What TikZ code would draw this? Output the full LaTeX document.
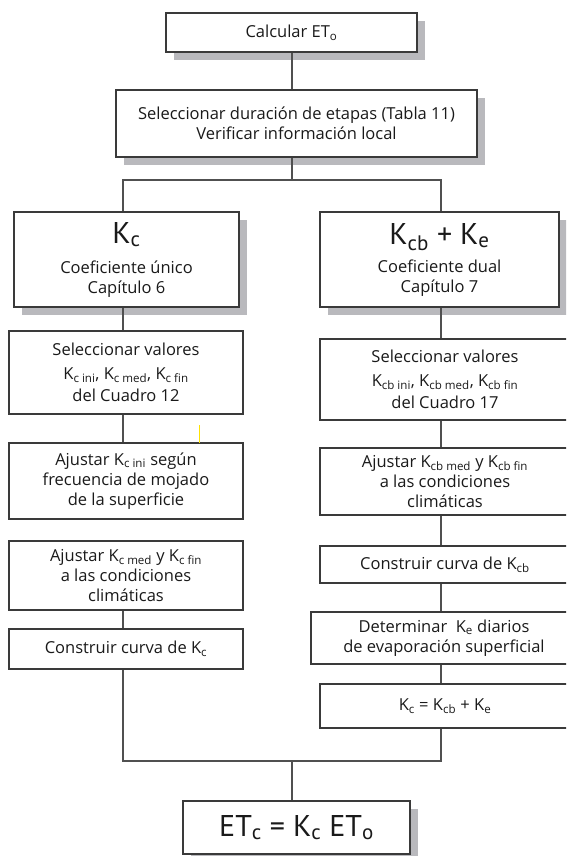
\documentclass[tikz,border=0pt]{standalone}
\usepackage{fontspec}
\setmainfont{Open Sans}
\newfontfamily\bigfamily{PT Sans}
\usetikzlibrary{shadows}
\definecolor{frameGray}{HTML}{3A3A3A}
\definecolor{lineGray}{HTML}{505050}
\definecolor{textGray}{HTML}{1A1A1A}
\definecolor{shadowGray}{HTML}{B9B9BD}
\newcommand{\sbs}[1]{\textsubscript{#1}}
\newcommand{\boxfont}{\fontsize{16.5}{20}\selectfont}
\newcommand{\bigfont}{\bigfamily\fontsize{30}{34}\selectfont}

\begin{document}
\begin{tikzpicture}[x=1pt, y=-1pt,
                box/.style={
                  draw=frameGray, line width=1.6pt, fill=white, align=center,
                  inner sep=0pt, text=textGray, font=\boxfont
                },
                shadowBox/.style={
                  box, drop shadow={shadow xshift=8pt, shadow yshift=-8pt,
                    fill=shadowGray, opacity=1}
                },
                link/.style={draw=lineGray, line width=1.4pt},
              ]
  \useasboundingbox (0,0) rectangle (566,856);
  \clip (0,0) rectangle (566,856);

  % columns of the connectors
  \coordinate (colM) at (292,0);
  \coordinate (colL) at (123,0);
  \coordinate (colR) at (441,0);
  \coordinate (split) at (292,180);
  \coordinate (merge) at (292,761);

  \node [shadowBox, minimum width=251pt, minimum height=39pt] (calc) at (291.5,32.5) {Calcular ET\sbs{o}};
  \node [shadowBox, minimum width=361pt, minimum height=67pt] (sel) at (296.5,123.5)
        {Seleccionar duración de etapas (Tabla 11)\\Verificar información local};

  % single coefficient
  \node [shadowBox, minimum width=225pt, minimum height=95pt] (kc) at (126.5,259.5)
        {{\bigfont K\sbs{c}}\\[10pt]Coeficiente único\\Capítulo 6};
  \node [box, minimum width=234pt, minimum height=83pt] (lsel) at (126,372.5)
        {Seleccionar valores\\[4pt]K\sbs{c ini}, K\sbs{c med}, K\sbs{c fin}\\[2pt]del Cuadro 12};
  \node [box, minimum width=234pt, minimum height=76pt] (lini) at (126,481)
        {Ajustar K\sbs{c ini} según\\frecuencia de mojado\\de la superficie};
  \node [box, minimum width=234pt, minimum height=69pt] (lmed) at (126,575.5)
        {Ajustar K\sbs{c med} y K\sbs{c fin}\\a las condiciones\\climáticas};
  \node [box, minimum width=234pt, minimum height=40pt] (lcurve) at (126,649)
        {Construir curva de K\sbs{c}};

  % dual coefficient
  \node [shadowBox, minimum width=239pt, minimum height=95pt] (kcb) at (439.5,259.5)
        {{\bigfont K\sbs{cb} + K\sbs{e}}\\[8pt]Coeficiente dual\\Capítulo 7};
  \node [box, minimum width=250pt, minimum height=81pt] (rsel) at (445,379.5)
        {Seleccionar valores\\[4pt]K\sbs{cb ini}, K\sbs{cb med}, K\sbs{cb fin}\\[2pt]del Cuadro 17};
  \node [box, minimum width=250pt, minimum height=67pt] (rmed) at (445,481.5)
        {Ajustar K\sbs{cb med} y K\sbs{cb fin}\\a las condiciones\\climáticas};
  \node [box, minimum width=250pt, minimum height=37pt] (rcurve) at (445,564.5)
        {Construir curva de K\sbs{cb}};
  \node [box, minimum width=266pt, minimum height=52pt] (rdet) at (444,638)
        {Determinar~ K\sbs{e} diarios\\de evaporación superficial};
  \node [box, minimum width=250pt, minimum height=44pt] (rsum) at (445,706)
        {K\sbs{c} = K\sbs{cb} + K\sbs{e}};

  \node [shadowBox, minimum width=227pt, minimum height=53pt, font=\bigfont] (etc) at (296.5,827.5)
        {ET\sbs{c} = K\sbs{c} ET\sbs{o}};

  \draw [link] (calc.south -| colM) -- (sel.north -| colM);
  \draw [link] (sel.south -| colM) -- (split);
  \draw [link] (kc.north -| colL) |- (split) -| (kcb.north -| colR);

  \draw [link] (kc.south -| colL) -- (lsel.north -| colL);
  \draw [link] (lsel.south -| colL) -- (lini.north -| colL);
  \draw [link] (lmed.south -| colL) -- (lcurve.north -| colL);

  \draw [link] (kcb.south -| colR) -- (rsel.north -| colR);
  \draw [link] (rsel.south -| colR) -- (rmed.north -| colR);
  \draw [link] (rmed.south -| colR) -- (rcurve.north -| colR);
  \draw [link] (rcurve.south -| colR) -- (rdet.north -| colR);
  \draw [link] (rdet.south -| colR) -- (rsum.north -| colR);

  \draw [link] (lcurve.south -| colL) |- (merge) -| (rsum.south -| colR);
  \draw [link] (merge) -- (etc.north -| colM);

  \draw [yellow!85!orange, line width=0.8pt] (199,425) -- (199,443);
\end{tikzpicture}
\end{document}
